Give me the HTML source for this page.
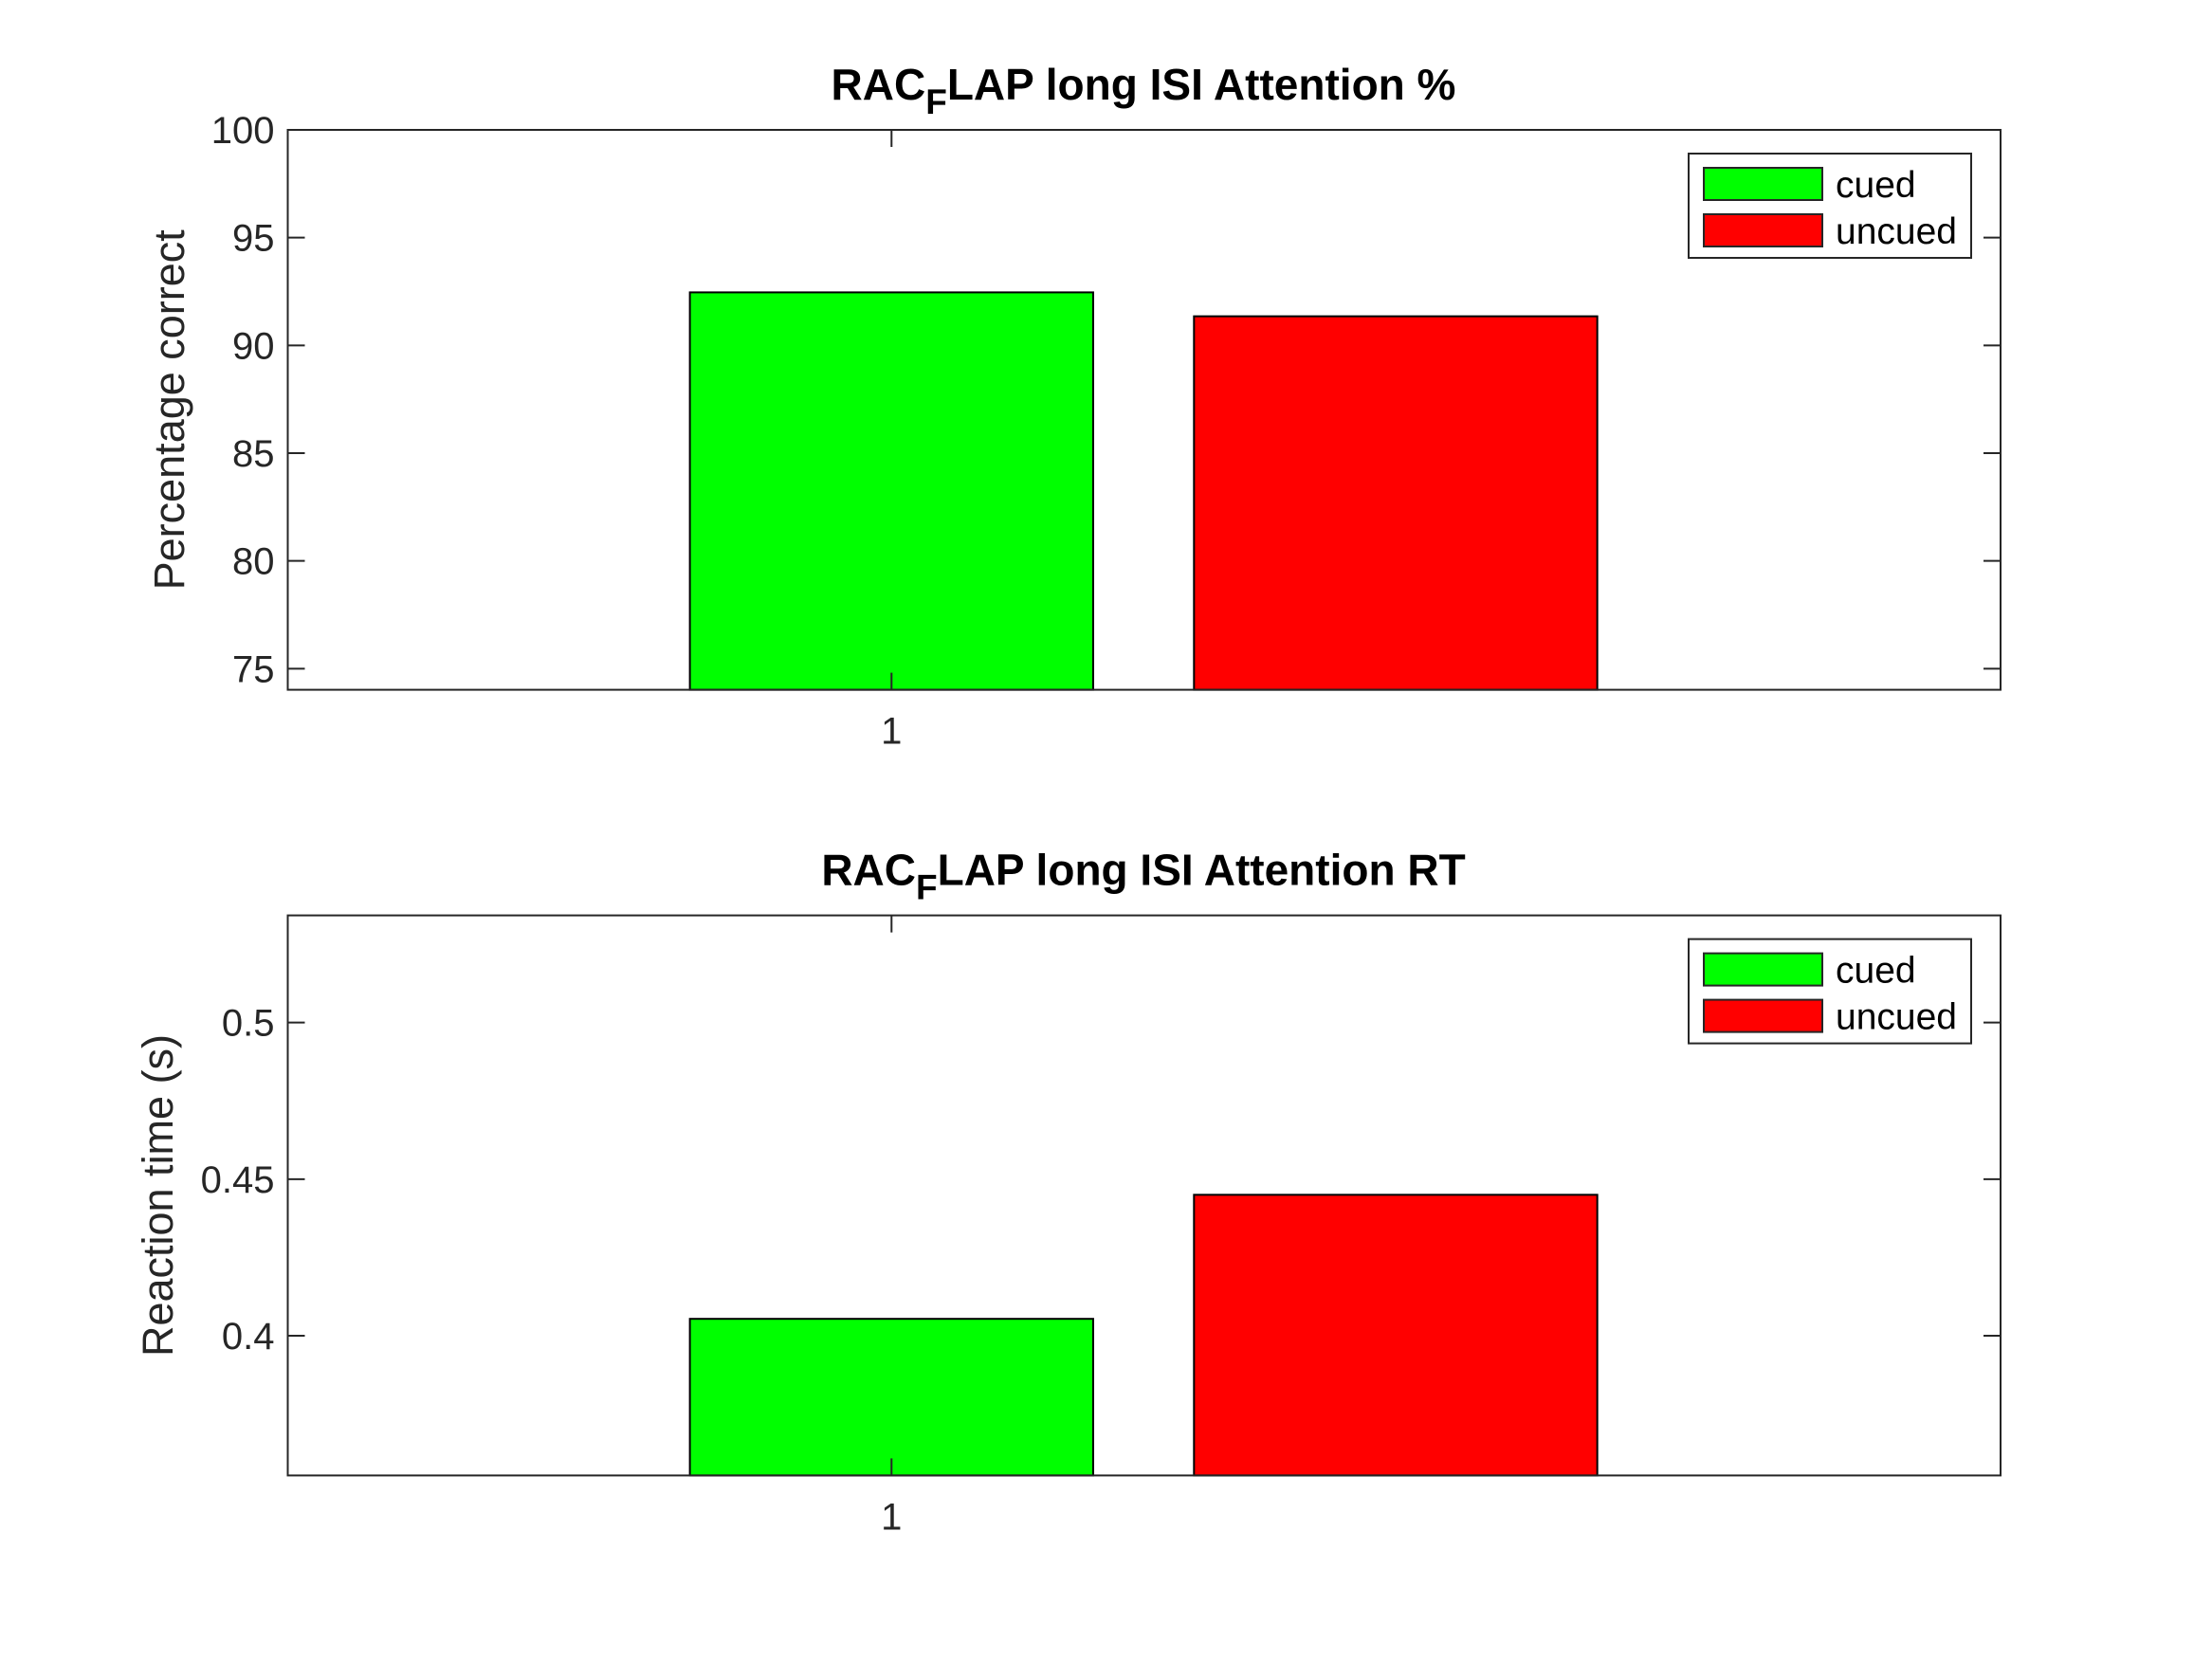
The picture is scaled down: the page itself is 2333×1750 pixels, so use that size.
<!DOCTYPE html>
<html><head><meta charset="utf-8"><style>
html,body{margin:0;padding:0;background:#fff;}
svg{display:block;font-family:"Liberation Sans",Arial,sans-serif;}
</style></head><body>
<svg id="fig" width="2333" height="1750" viewBox="0 0 2333 1750" xmlns="http://www.w3.org/2000/svg"></svg>
<script>
const categories = ["cued", "uncued"];
const colors = ["#00ff00", "#ff0000"];
const xTickLabels = ["1"];
const accValues = [92.46, 91.35];
const accTicks = [75, 80, 85, 90, 95, 100];
const rtValues = [0.4054, 0.445];
const rtTicks = [0.4, 0.45, 0.5];

const NS = "http://www.w3.org/2000/svg";
const svg = document.getElementById("fig");
function mk(tag, attrs, parent) {
  const e = document.createElementNS(NS, tag);
  for (const k in attrs) e.setAttribute(k, attrs[k]);
  (parent || svg).appendChild(e);
  return e;
}

function drawPanel(cfg) {
  const g = mk("g", {});
  
  
  const L = 303.5, R = 2110, T = cfg.top, B = cfg.bottom;
  const xmin = -0.1977, xmax = 3.2;
  const xs = v => L + (v - xmin) / (xmax - xmin) * (R - L);
  const ys = v => B - (v - cfg.ymin) / (cfg.ymax - cfg.ymin) * (B - T);
  cfg.values.forEach((v, i) => {
    const xc = xs(i + 1), w = xs(0.8) - xs(0);
    const r = mk("rect", {x: xc - w / 2, y: ys(v), width: w, height: B - ys(v), fill: colors[i], stroke: "#000", "stroke-width": 2}, g);
    
    
  });
  const box = mk("rect", {x: L, y: T, width: R - L, height: B - T, fill: "none", stroke: "#262626", "stroke-width": 2}, g);
  
  
  cfg.ticks.forEach(t => {
    const y = ys(t);
    mk("line", {x1: L, x2: L + 18, y1: y, y2: y, stroke: "#262626", "stroke-width": 2}, g);
    mk("line", {x1: R, x2: R - 18, y1: y, y2: y, stroke: "#262626", "stroke-width": 2}, g);
    const tx = mk("text", {x: L - 14, y: y + 14, "text-anchor": "end", "font-size": 40, fill: "#262626"}, g);
    tx.textContent = String(t);
    
    
  });
  xTickLabels.forEach((lab, i) => {
    const x = xs(i + 1);
    mk("line", {x1: x, x2: x, y1: B, y2: B - 18, stroke: "#262626", "stroke-width": 2}, g);
    mk("line", {x1: x, x2: x, y1: T, y2: T + 18, stroke: "#262626", "stroke-width": 2}, g);
    const tx = mk("text", {x: x, y: B + 57, "text-anchor": "middle", "font-size": 40, fill: "#262626"}, g);
    tx.textContent = lab;
    
    
  });
  const tt = mk("text", {x: 1206, y: T - 32, "text-anchor": "middle", "font-size": 46, "font-weight": "bold", fill: "#000"}, g);
  tt.innerHTML = 'RAC<tspan dy="15" font-size="37">F</tspan><tspan dy="-15">' + cfg.titleRest + '</tspan>';
  
  
  const yl = mk("text", {x: 0, y: 0, "text-anchor": "middle", "font-size": 45, fill: "#262626", transform: `translate(${cfg.ylx},${(T + B) / 2}) rotate(-90)`}, g);
  yl.textContent = cfg.ylabel;
  
  
  const lg = mk("g", {}, g);
  
  
  const LT = T + 25;
  mk("rect", {x: 1781, y: LT, width: 298, height: 110, fill: "#fff", stroke: "#262626", "stroke-width": 2}, lg);
  categories.forEach((c, i) => {
    const yy = LT + 15 + i * 49;
    const sw = mk("rect", {x: 1797, y: yy, width: 125, height: 34, fill: colors[i], stroke: "#262626", "stroke-width": 2}, lg);
    
    
    const tx = mk("text", {x: 1936, y: yy + 31, "font-size": 39, fill: "#000"}, lg);
    tx.textContent = c;
    
    
  });
}

drawPanel({name: "accuracy-panel", top: 137, bottom: 727.6, ymin: 74.02, ymax: 100, values: accValues, ticks: accTicks,
  titleRest: "LAP long ISI Attention %", ylabel: "Percentage correct", ylx: 194});
drawPanel({name: "rt-panel", top: 965.6, bottom: 1556.4, ymin: 0.3554, ymax: 0.5342, values: rtValues, ticks: rtTicks,
  titleRest: "LAP long ISI Attention RT", ylabel: "Reaction time (s)", ylx: 182});
</script>
</body></html>
